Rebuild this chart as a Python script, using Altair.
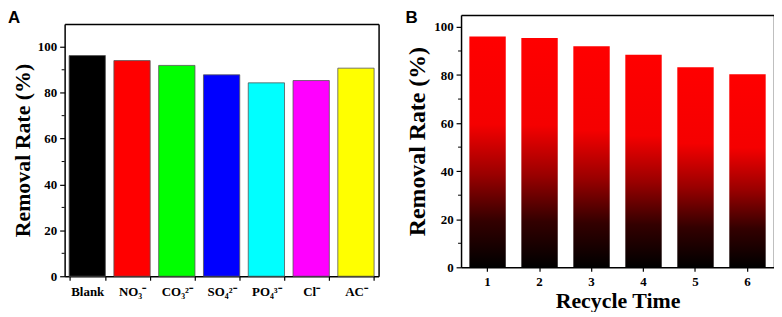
import altair as alt
import pandas as pd

# ---- data ----
ions = ["Blank", "NO₃⁻", "CO₃²⁻", "SO₄²⁻", "PO₄³⁻", "Cl⁻", "AC⁻"]
rates_a = [96.2, 94.0, 91.9, 87.8, 84.3, 85.3, 90.7]
colors_a = ["#000000", "#ff0000", "#00ff00", "#0000ff", "#00ffff", "#ff00ff", "#ffff00"]

cycles = ["1", "2", "3", "4", "5", "6"]
rates_b = [96.0, 95.4, 92.0, 88.4, 83.2, 80.3]

major_a = [0, 20, 40, 60, 80, 100]
minor_a = [10, 30, 50, 70, 90]
major_b = [0, 20, 40, 60, 80, 100]
minor_b = [10, 30, 50, 70, 90]

panel_labels = ["A", "B"]

df_a = pd.DataFrame({"ion": ions, "rate": rates_a})
df_b = pd.DataFrame({"cycle": cycles, "rate": rates_b})

SERIF = "Liberation Serif"
A_H = 263     # view height of panel A (its frame starts A_TOP px lower)
A_TOP = 9

# ---- panel A ----
bars_a = alt.Chart(df_a).mark_bar(stroke="#555555", strokeWidth=0.8).encode(
    x=alt.X("ion:N", sort=ions,
            scale=alt.Scale(paddingInner=0.19, paddingOuter=0.1),
            axis=alt.Axis(title=None, labelAngle=0, tickBand="extent", tickSize=4,
                          labelPadding=5, labelFontSize=13)),
    y=alt.Y("rate:Q", scale=alt.Scale(domain=[0, 110], nice=False, range=[A_H, A_TOP]),
            axis=alt.Axis(values=major_a, title="Removal Rate (%)", titleFontSize=22,
                          tickSize=5, labelPadding=3, titlePadding=3, labelFontSize=13)),
    color=alt.Color("ion:N", scale=alt.Scale(domain=ions, range=colors_a), legend=None),
)
frame_a = alt.Chart(df_a).mark_point(opacity=0).encode(
    x=alt.X("ion:N", sort=ions,
            axis=alt.Axis(orient="top", ticks=False, labels=False, title=None, offset=-A_TOP)),
    y=alt.Y("rate:Q", axis=alt.Axis(orient="right", ticks=False, labels=False, title=None)),
)
minor_ticks_a = alt.Chart(pd.DataFrame({"rate": minor_a})).mark_rule(color="black", strokeWidth=1).encode(
    y=alt.Y("rate:Q", axis=None), x=alt.value(-3), x2=alt.value(0)
)
label_a = alt.Chart(pd.DataFrame({"t": [panel_labels[0]]})).mark_text(
    align="left", baseline="top", font="Liberation Sans", fontWeight="bold", fontSize=17, color="black"
).encode(text="t:N", x=alt.value(-57), y=alt.value(-5))

chart_a = alt.layer(bars_a, frame_a, minor_ticks_a, label_a).resolve_axis(
    x="independent", y="independent"
).properties(width=316, height=A_H)

# ---- panel B ----
grad = alt.Gradient(
    gradient="linear", x1=0, x2=0, y1=1, y2=0,
    stops=[
        alt.GradientStop(offset=0, color="#000000"),
        alt.GradientStop(offset=0.2, color="#330000"),
        alt.GradientStop(offset=0.4, color="#990000"),
        alt.GradientStop(offset=0.62, color="#f50000"),
        alt.GradientStop(offset=1, color="#ff0000"),
    ],
)
bars_b = alt.Chart(df_b).mark_bar(color=grad).encode(
    x=alt.X("cycle:N", sort=cycles,
            scale=alt.Scale(paddingInner=0.30, paddingOuter=0.16),
            axis=alt.Axis(title="Recycle Time", labelAngle=0, tickSize=4, labelPadding=4,
                          titleFontSize=22, titlePadding=2, labelFontSize=13)),
    y=alt.Y("rate:Q", scale=alt.Scale(domain=[0, 105], nice=False),
            axis=alt.Axis(values=major_b, title="Removal Rate (%)", titleFontSize=24,
                          tickSize=5, labelPadding=3, titlePadding=4, labelFontSize=13)),
)
frame_b = alt.Chart(df_b).mark_point(opacity=0).encode(
    x=alt.X("cycle:N", sort=cycles,
            axis=alt.Axis(orient="top", ticks=False, labels=False, title=None)),
    y=alt.Y("rate:Q", axis=alt.Axis(orient="right", ticks=False, labels=False, title=None)),
)
minor_ticks_b = alt.Chart(pd.DataFrame({"rate": minor_b})).mark_rule(color="black", strokeWidth=1).encode(
    y=alt.Y("rate:Q", axis=None), x=alt.value(-3), x2=alt.value(0)
)
label_b = alt.Chart(pd.DataFrame({"t": [panel_labels[1]]})).mark_text(
    align="left", baseline="top", font="Liberation Sans", fontWeight="bold", fontSize=17, color="black"
).encode(text="t:N", x=alt.value(-56), y=alt.value(-5))

chart_b = alt.layer(bars_b, frame_b, minor_ticks_b, label_b).resolve_axis(
    x="independent", y="independent"
).properties(width=315, height=254)

chart = alt.hconcat(chart_a, chart_b, spacing=27).properties(padding=0).configure_view(
    stroke=None
).configure_axis(
    domainColor="black", tickColor="black", labelColor="black", titleColor="black",
    labelFont=SERIF, titleFont=SERIF, labelFontWeight="bold", titleFontWeight="bold",
    grid=False, domainWidth=1.5, tickWidth=1.2,
)

chart.save("out.html", embed_options={"renderer": "svg", "actions": False})
